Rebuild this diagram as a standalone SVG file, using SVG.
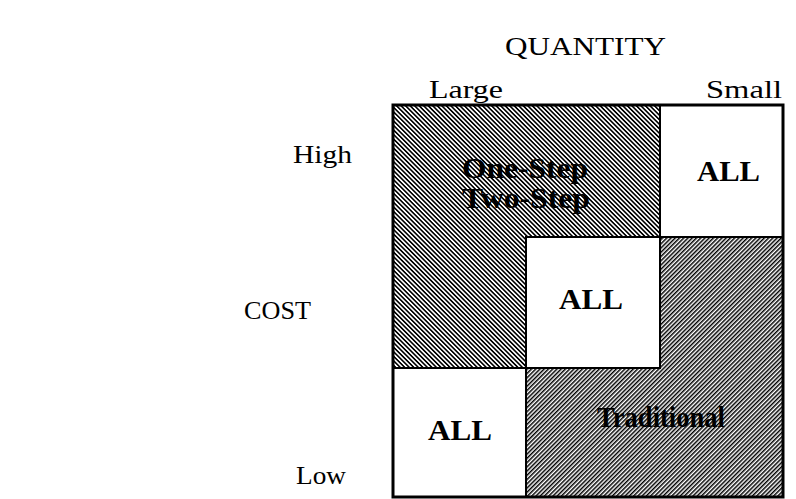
<svg xmlns="http://www.w3.org/2000/svg" width="796" height="499" viewBox="0 0 796 499">
  <style>
    .lbl { font-family: "Liberation Serif", "Times New Roman", serif; font-size: 26px; fill: #000; }
    .cell { font-family: "Liberation Serif", "Times New Roman", serif; font-size: 30px; font-weight: bold; fill: #000; }
    .box { fill: #fff; stroke: #000; stroke-width: 2; }
  </style>
  <defs>
    <!-- back-slash hatching for the upper-left region -->
    <pattern id="hatchBack" width="3.2" height="10" patternUnits="userSpaceOnUse" patternTransform="rotate(-45)">
      <rect x="0" y="0" width="1.6" height="10" fill="#000"/>
    </pattern>
    <!-- forward-slash hatching for the lower-right region -->
    <pattern id="hatchFwd" width="3.0" height="10" patternUnits="userSpaceOnUse" patternTransform="rotate(45)">
      <rect x="0" y="0" width="1.5" height="10" fill="#000"/>
    </pattern>
  </defs>

  <!-- axis labels -->
  <g id="axis-labels">
    <text class="lbl" x="505" y="55" textLength="161" lengthAdjust="spacingAndGlyphs">QUANTITY</text>
    <text class="lbl" x="429" y="98" textLength="74" lengthAdjust="spacingAndGlyphs">Large</text>
    <text class="lbl" x="706" y="98" textLength="76" lengthAdjust="spacingAndGlyphs">Small</text>
    <text class="lbl" x="293" y="163" textLength="59" lengthAdjust="spacingAndGlyphs">High</text>
    <text class="lbl" x="244" y="319" textLength="67" lengthAdjust="spacingAndGlyphs">COST</text>
    <text class="lbl" x="296" y="484" textLength="50" lengthAdjust="spacingAndGlyphs">Low</text>
  </g>

  <!-- upper-left hatched region: One-Step / Two-Step -->
  <g id="region-onestep-twostep">
    <path d="M393,105 H660 V237 H526 V368 H393 Z" fill="url(#hatchBack)" stroke="#000" stroke-width="2"/>
    <text class="cell" x="462" y="178" font-size="24" textLength="126" lengthAdjust="spacingAndGlyphs">One-Step</text>
    <text class="cell" x="462" y="208" font-size="24" textLength="128" lengthAdjust="spacingAndGlyphs">Two-Step</text>
  </g>

  <!-- lower-right hatched region: Traditional -->
  <g id="region-traditional">
    <path d="M660,237 H783 V497 H526 V368 H660 Z" fill="url(#hatchFwd)" stroke="#000" stroke-width="2"/>
    <text class="cell" x="597" y="427" font-size="27" textLength="128" lengthAdjust="spacingAndGlyphs">Traditional</text>
  </g>

  <!-- white cells -->
  <g id="cell-top-right">
    <rect class="box" x="660" y="105" width="123" height="132"/>
    <text class="cell" x="697" y="181" textLength="63" lengthAdjust="spacingAndGlyphs">ALL</text>
  </g>
  <g id="cell-middle">
    <rect class="box" x="526" y="237" width="134" height="131"/>
    <text class="cell" x="559" y="309" textLength="64" lengthAdjust="spacingAndGlyphs">ALL</text>
  </g>
  <g id="cell-bottom-left">
    <rect class="box" x="393" y="368" width="133" height="129"/>
    <text class="cell" x="428" y="440" textLength="64" lengthAdjust="spacingAndGlyphs">ALL</text>
  </g>

  <!-- outer frame -->
  <g id="frame">
    <rect x="393" y="105" width="390" height="392" fill="none" stroke="#000" stroke-width="3"/>
  </g>
</svg>
